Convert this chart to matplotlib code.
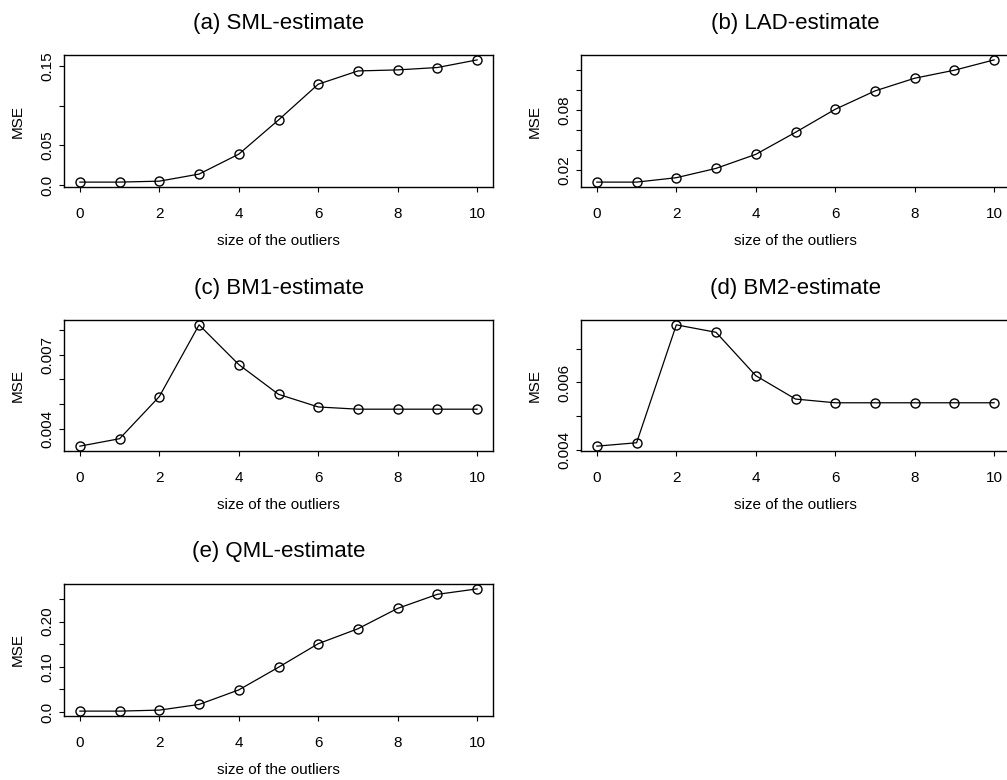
import numpy as np
import matplotlib
matplotlib.use("Agg")
import matplotlib.pyplot as plt

plt.rcParams['font.family'] = ['Liberation Sans', 'DejaVu Sans']

# outlier sizes
size = np.arange(0, 11)

# MSE
mse_sml = [0.0038, 0.0038, 0.005, 0.0139, 0.039, 0.082, 0.127, 0.1437, 0.145, 0.148, 0.1576]
mse_lad = [0.0083, 0.0083, 0.0127, 0.022, 0.036, 0.058, 0.081, 0.0993, 0.112, 0.120, 0.1303]
mse_bm1 = [0.00331, 0.00361, 0.00531, 0.0082, 0.0066, 0.0054, 0.00489, 0.0048, 0.0048, 0.0048, 0.0048]
mse_bm2 = [0.00412, 0.00422, 0.0077, 0.00748, 0.0062, 0.00551, 0.0054, 0.0054, 0.0054, 0.0054, 0.0054]
mse_qml = [0.0022, 0.0022, 0.0044, 0.0169, 0.049, 0.099, 0.151, 0.184, 0.229, 0.260, 0.272]

titles = ["(a) SML-estimate", "(b) LAD-estimate", "(c) BM1-estimate",
          "(d) BM2-estimate", "(e) QML-estimate"]

# y ticks and the labels R actually printed (others dropped for overlap)
yt_sml = [0.0, 0.05, 0.10, 0.15]
yl_sml = ["0.0", "0.05", "", "0.15"]
yt_lad = [0.02, 0.04, 0.06, 0.08, 0.10, 0.12]
yl_lad = ["0.02", "", "", "0.08", "", ""]
yt_bm1 = [0.004, 0.005, 0.006, 0.007, 0.008]
yl_bm1 = ["0.004", "", "", "0.007", ""]
yt_bm2 = [0.004, 0.005, 0.006, 0.007]
yl_bm2 = ["0.004", "", "0.006", ""]
yt_qml = [0.0, 0.05, 0.10, 0.15, 0.20, 0.25]
yl_qml = ["0.0", "", "0.10", "", "0.20", ""]

xticks = [0, 2, 4, 6, 8, 10]

W, H = 1007, 780
fig = plt.figure(figsize=(W / 100, H / 100), dpi=100)

# panel boxes in pixels: left, top, width, height
boxes = [(64, 55, 429, 132), (581, 55, 429, 132),
         (64, 320, 429, 131), (581, 320, 429, 131),
         (64, 584, 429, 132)]
data = [(mse_sml, yt_sml, yl_sml), (mse_lad, yt_lad, yl_lad),
        (mse_bm1, yt_bm1, yl_bm1), (mse_bm2, yt_bm2, yl_bm2),
        (mse_qml, yt_qml, yl_qml)]

for (l, t, w, h), (y, yt, yl), title in zip(boxes, data, titles):
    ax = fig.add_axes([l / W, 1 - (t + h) / H, w / W, h / H])
    ax.plot(size, y, color='black', lw=0.9, marker='o', ms=6.5,
            mfc='none', mec='black', mew=1.0)
    ymin, ymax = min(y), max(y)
    pad = 0.04 * (ymax - ymin)
    ax.set_xlim(-0.4, 10.4)
    ax.set_ylim(ymin - pad, ymax + pad)
    ax.set_xticks(xticks)
    ax.set_xticklabels([str(v) for v in xticks], fontsize=11)
    ax.set_yticks(yt)
    ax.set_yticklabels(yl, fontsize=11, rotation=90, va='center')
    ax.tick_params(direction='out', length=3.6, width=0.8, color='black')
    ax.tick_params(axis='x', pad=10.5)
    ax.tick_params(axis='y', pad=3)
    for s in ax.spines.values():
        s.set_linewidth(1.0)
        s.set_color('black')
    ax.set_xlabel("size of the outliers", fontsize=11, va='center')
    ax.xaxis.set_label_coords(0.5, -54 / h)
    ax.set_ylabel("MSE", fontsize=11, va='center')
    ax.yaxis.set_label_coords(-46 / w, 0.5)
    ax.text(0.5, 1 + 32 / h, title, transform=ax.transAxes,
            ha='center', va='center', fontsize=16)

fig.savefig("out.png", dpi=100)
